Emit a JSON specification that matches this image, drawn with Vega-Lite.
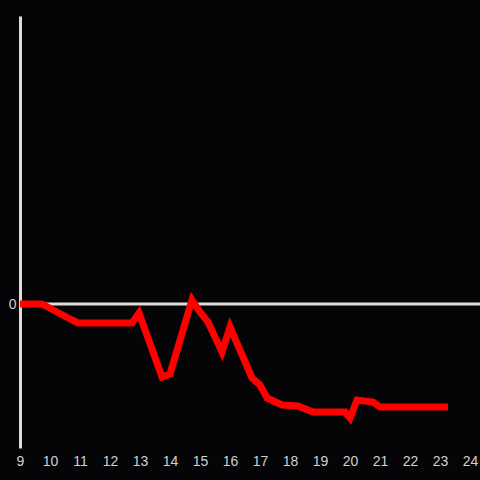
{
  "$schema": "https://vega.github.io/schema/vega-lite/v6.json",
  "width": 460,
  "height": 432,
  "autosize": {"type": "none"},
  "padding": {"left": 20, "top": 16, "right": 0, "bottom": 32},
  "background": "#050407",
  "config": {
    "view": {"stroke": null},
    "axis": {"labelFont": "Liberation Sans", "labelFontSize": 14, "labelColor": "#d0d0d0", "grid": false, "ticks": false, "title": null}
  },
  "data": {"values": [
    {"h": 9.0, "v": 0},
    {"h": 9.733, "v": 0},
    {"h": 10.667, "v": -15},
    {"h": 10.933, "v": -19},
    {"h": 12.733, "v": -19},
    {"h": 12.967, "v": -9},
    {"h": 13.733, "v": -73},
    {"h": 14.0, "v": -70},
    {"h": 14.733, "v": 4},
    {"h": 15.0, "v": -8},
    {"h": 15.267, "v": -18},
    {"h": 15.733, "v": -48},
    {"h": 16.0, "v": -23},
    {"h": 16.733, "v": -74},
    {"h": 17.0, "v": -81},
    {"h": 17.233, "v": -94},
    {"h": 17.733, "v": -101},
    {"h": 18.267, "v": -102},
    {"h": 18.767, "v": -108},
    {"h": 19.833, "v": -108},
    {"h": 20.0, "v": -114},
    {"h": 20.233, "v": -96},
    {"h": 20.767, "v": -98},
    {"h": 21.0, "v": -103},
    {"h": 23.267, "v": -103}
  ]},
  "layer": [
    {
      "mark": {"type": "rule", "color": "#dddddd", "strokeWidth": 3},
      "data": {"values": [{"z": 0}]},
      "encoding": {"y": {"field": "z", "type": "quantitative"}}
    },
    {
      "mark": {"type": "line", "color": "#ff0000", "strokeWidth": 7, "strokeJoin": "miter", "strokeCap": "butt"},
      "encoding": {
        "x": {"field": "h", "type": "quantitative",
              "scale": {"domain": [9, 24.333], "nice": false, "zero": false},
              "axis": {"values": [9,10,11,12,13,14,15,16,17,18,19,20,21,22,23,24], "domain": false, "labelPadding": 6, "labelFlush": false, "labelOverlap": false}},
        "y": {"field": "v", "type": "quantitative",
              "scale": {"domain": [-144, 288], "nice": false},
              "axis": {"values": [0], "domain": true, "domainColor": "#dddddd", "domainWidth": 3, "labelPadding": 4}}
      }
    }
  ]
}
